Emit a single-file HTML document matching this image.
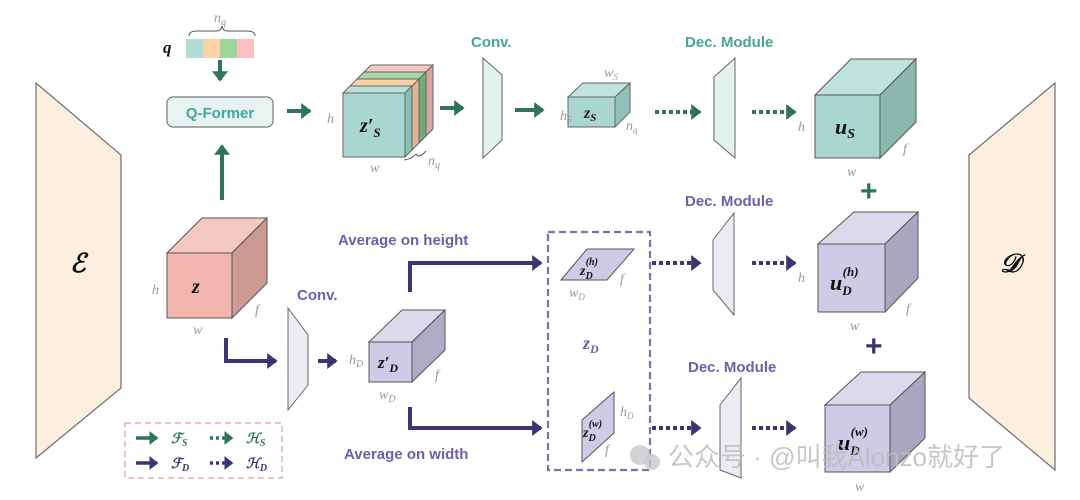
<!DOCTYPE html>
<html><head><meta charset="utf-8"><style>
html,body{margin:0;padding:0;background:#fff;}
svg{display:block;}
.lab{font-family:"Liberation Serif",serif;font-style:italic;fill:#9a9a9a;font-size:14px;}
.bt{font-family:"Liberation Sans",sans-serif;font-weight:bold;font-size:15px;}
.mth{font-family:"Liberation Serif",serif;font-weight:bold;font-style:italic;fill:#111;}
</style></head><body>
<svg width="1080" height="500" viewBox="0 0 1080 500" xmlns="http://www.w3.org/2000/svg">
<defs>
<marker id="ag" markerWidth="4" markerHeight="4" refX="2.2" refY="2" orient="auto" markerUnits="strokeWidth"><path d="M0,0 L2.6,2 L0,4z" fill="#2f7262"/></marker>
<marker id="ap" markerWidth="4" markerHeight="4" refX="2.2" refY="2" orient="auto" markerUnits="strokeWidth"><path d="M0,0 L2.6,2 L0,4z" fill="#3d3573"/></marker>
</defs>
<polygon points="36,83 121,155 121,388 36,458" fill="#fdefe0" stroke="#6d6d6d" stroke-width="1.2"/>
<text x="70" y="272" class="mth" font-size="26">ℰ</text>
<polygon points="969,155 1055,83 1055,470 969,398" fill="#fdefe0" stroke="#6d6d6d" stroke-width="1.2"/>
<text x="1000" y="272" class="mth" font-size="26">𝒟</text>

<text x="163" y="53" class="mth" font-size="17">q</text>
<rect x="186" y="39" width="17" height="19" fill="#b2ddd7"/><rect x="203" y="39" width="17" height="19" fill="#fbd3a9"/><rect x="220" y="39" width="17" height="19" fill="#9fd49b"/><rect x="237" y="39" width="17" height="19" fill="#f9c2c0"/>
<path d="M189,36 q0,-5 8,-5 h20 q4,0 5,-5 q1,5 5,5 h20 q8,0 8,5" fill="none" stroke="#555" stroke-width="1"/>
<text x="214" y="22" class="lab">n<tspan font-size="10" dy="3">q</tspan></text>
<line x1="220" y1="60" x2="220" y2="80" stroke="#2f7262" stroke-width="4" marker-end="url(#ag)"/>
<rect x="167" y="97" width="106" height="30" rx="6" fill="#e5f3f1" stroke="#777" stroke-width="1.2"/>
<text x="220" y="118" class="bt" fill="#46a596" text-anchor="middle" font-size="16">Q-Former</text>
<line x1="222" y1="200" x2="222" y2="146" stroke="#2f7262" stroke-width="4" marker-end="url(#ag)"/>
<line x1="287" y1="111" x2="310" y2="111" stroke="#2f7262" stroke-width="4" marker-end="url(#ag)"/>

<!-- z'_S stacked cube -->
<g stroke="#666" stroke-width="1">
<polygon points="364,72 426,72 433,65 371,65" fill="#f6c8c2"/>
<polygon points="426,72 433,65 433,129 426,136" fill="#d9a3a0"/>
<polygon points="357,79 419,79 426,72 364,72" fill="#a7d7a3"/>
<polygon points="419,79 426,72 426,136 419,143" fill="#6aae77"/>
<polygon points="350,86 412,86 419,79 357,79" fill="#fbd2a8"/>
<polygon points="412,86 419,79 419,143 412,150" fill="#e3b28e"/>
<polygon points="343,93 405,93 412,86 350,86" fill="#b9e0da"/>
<polygon points="405,93 412,86 412,150 405,157" fill="#87bfb6"/>
<rect x="343" y="93" width="62" height="64" fill="#a9d7d0"/>
</g>
<text x="360" y="132" class="mth" font-size="20">z′<tspan font-size="13" dy="5">S</tspan></text>
<text x="327" y="123" class="lab">h</text>
<text x="370" y="172" class="lab">w</text>
<path d="M404,160 q8,-1 12,-6 q3,5 10,-3" fill="none" stroke="#555" stroke-width="1"/>
<text x="428" y="165" class="lab">n<tspan font-size="10" dy="3">q</tspan></text>
<line x1="440" y1="108" x2="463" y2="108" stroke="#2f7262" stroke-width="4" marker-end="url(#ag)"/>
<text x="471" y="47" class="bt" fill="#46a596">Conv.</text>
<polygon points="483,58 502,75 502,140 483,158" fill="#e2f2ef" stroke="#666" stroke-width="1"/>
<line x1="515" y1="110" x2="543" y2="110" stroke="#2f7262" stroke-width="4" marker-end="url(#ag)"/>
<g stroke="#666" stroke-width="1">
<polygon points="568,97 583,83 630,83 615,97" fill="#c2e4df"/>
<polygon points="615,97 630,83 630,112 615,127" fill="#8fc1b9"/>
<rect x="568" y="97" width="47" height="30" fill="#a9d7d0"/>
</g>
<text x="584" y="118" class="mth" font-size="16">z<tspan font-size="11" dy="3">S</tspan></text>
<text x="604" y="77" class="lab" font-size="12">w<tspan font-size="9" dy="3">S</tspan></text>
<text x="560" y="120" class="lab" font-size="12">h<tspan font-size="9" dy="3">S</tspan></text>
<text x="626" y="130" class="lab" font-size="12">n<tspan font-size="9" dy="3">q</tspan></text>
<line x1="655" y1="112" x2="700" y2="112" stroke="#2f7262" stroke-width="4" stroke-dasharray="4,3" marker-end="url(#ag)"/>
<text x="685" y="47" class="bt" fill="#46a596">Dec. Module</text>
<polygon points="714,77 735,58 735,158 714,140" fill="#e2f2ef" stroke="#666" stroke-width="1"/>
<line x1="752" y1="112" x2="795" y2="112" stroke="#2f7262" stroke-width="4" stroke-dasharray="4,3" marker-end="url(#ag)"/>
<g stroke="#555" stroke-width="1">
<polygon points="815,95 851,59 916,59 880,95" fill="#bfe2dc"/>
<polygon points="880,95 916,59 916,122 880,158" fill="#8bb6ae"/>
<rect x="815" y="95" width="65" height="63" fill="#a9d7d0"/>
</g>
<text x="835" y="134" class="mth" font-size="22">u<tspan font-size="14" dy="4">S</tspan></text>
<text x="798" y="131" class="lab">h</text>
<text x="847" y="176" class="lab">w</text>
<text x="903" y="153" class="lab">f</text>
<text x="860" y="201" font-family="Liberation Sans,sans-serif" font-size="30" fill="#2f7262" font-weight="bold">+</text>

<g stroke="#555" stroke-width="1">
<polygon points="167,253 202,218 267,218 232,253" fill="#f5c8c1"/>
<polygon points="232,253 267,218 267,283 232,318" fill="#cf9a93"/>
<rect x="167" y="253" width="65" height="65" fill="#f3b6ae"/>
</g>
<text x="192" y="293" class="mth" font-size="20">z</text>
<text x="152" y="294" class="lab">h</text>
<text x="193" y="334" class="lab">w</text>
<text x="255" y="314" class="lab">f</text>
<path d="M226,338 V361 H276" fill="none" stroke="#3d3573" stroke-width="4" marker-end="url(#ap)"/>
<text x="297" y="300" class="bt" fill="#6b5fae">Conv.</text>
<polygon points="288,308 308,335 308,385 288,410" fill="#ecebf3" stroke="#666" stroke-width="1"/>
<line x1="318" y1="361" x2="336" y2="361" stroke="#3d3573" stroke-width="4" marker-end="url(#ap)"/>
<g stroke="#555" stroke-width="1">
<polygon points="369,342 402,310 445,310 412,342" fill="#dcd9ec"/>
<polygon points="412,342 445,310 445,350 412,382" fill="#aeabc4"/>
<rect x="369" y="342" width="43" height="40" fill="#cfcbe7"/>
</g>
<text x="378" y="368" class="mth" font-size="17">z′<tspan font-size="12" dy="4">D</tspan></text>
<text x="349" y="364" class="lab">h<tspan font-size="10" dy="3">D</tspan></text>
<text x="379" y="399" class="lab">w<tspan font-size="10" dy="3">D</tspan></text>
<text x="435" y="379" class="lab">f</text>
<text x="338" y="245" class="bt" fill="#6b5fae">Average on height</text>
<path d="M410,292 V263 H541" fill="none" stroke="#3d3573" stroke-width="4" marker-end="url(#ap)"/>
<text x="344" y="459" class="bt" fill="#6b5fae">Average on width</text>
<path d="M410,407 V428 H541" fill="none" stroke="#3d3573" stroke-width="4" marker-end="url(#ap)"/>

<rect x="548" y="232" width="102" height="238" fill="none" stroke="#7a6fb0" stroke-width="2.2" stroke-dasharray="7,4"/>
<polygon points="561,280 587,249 634,249 607,280" fill="#cfcbe7" stroke="#555" stroke-width="1"/>
<text x="580" y="275" class="mth" font-size="14">z<tspan font-size="10" dy="4">D</tspan><tspan font-size="10" dy="-14" dx="-7">(h)</tspan></text>
<text x="569" y="297" class="lab" font-size="13">w<tspan font-size="9" dy="3">D</tspan></text>
<text x="620" y="283" class="lab" font-size="13">f</text>
<text x="583" y="349" class="mth" font-size="18" style="fill:#6b5fae">z<tspan font-size="12" dy="4">D</tspan></text>
<polygon points="582,462 582,420 614,392 614,433" fill="#cfcbe7" stroke="#555" stroke-width="1"/>
<text x="583" y="437" class="mth" font-size="14">z<tspan font-size="10" dy="4">D</tspan><tspan font-size="10" dy="-14" dx="-7">(w)</tspan></text>
<text x="620" y="416" class="lab" font-size="13">h<tspan font-size="9" dy="3">D</tspan></text>
<text x="605" y="454" class="lab" font-size="13">f</text>

<line x1="652" y1="263" x2="700" y2="263" stroke="#3d3573" stroke-width="4" stroke-dasharray="4,3" marker-end="url(#ap)"/>
<text x="685" y="206" class="bt" fill="#6b5fae">Dec. Module</text>
<polygon points="713,240 734,213 734,315 713,290" fill="#ecebf3" stroke="#666" stroke-width="1"/>
<line x1="752" y1="263" x2="795" y2="263" stroke="#3d3573" stroke-width="4" stroke-dasharray="4,3" marker-end="url(#ap)"/>
<g stroke="#555" stroke-width="1">
<polygon points="818,244 854,212 918,212 885,244" fill="#dcd9ec"/>
<polygon points="885,244 918,212 918,278 885,312" fill="#a9a6bf"/>
<rect x="818" y="244" width="67" height="68" fill="#cfcbe7"/>
</g>
<text x="830" y="290" class="mth" font-size="22">u<tspan font-size="13" dy="5">D</tspan><tspan font-size="13" dy="-19" dx="-9">(h)</tspan></text>
<text x="798" y="282" class="lab">h</text>
<text x="850" y="330" class="lab">w</text>
<text x="906" y="313" class="lab">f</text>
<text x="865" y="356" font-family="Liberation Sans,sans-serif" font-size="30" fill="#3d3573" font-weight="bold">+</text>

<line x1="652" y1="428" x2="700" y2="428" stroke="#3d3573" stroke-width="4" stroke-dasharray="4,3" marker-end="url(#ap)"/>
<text x="688" y="372" class="bt" fill="#6b5fae">Dec. Module</text>
<polygon points="720,405 741,378 741,478 720,470" fill="#ecebf3" stroke="#666" stroke-width="1"/>
<line x1="752" y1="428" x2="795" y2="428" stroke="#3d3573" stroke-width="4" stroke-dasharray="4,3" marker-end="url(#ap)"/>
<g stroke="#555" stroke-width="1">
<polygon points="825,405 861,372 925,372 890,405" fill="#dcd9ec"/>
<polygon points="890,405 925,372 925,438 890,472" fill="#a9a6bf"/>
<rect x="825" y="405" width="65" height="67" fill="#cfcbe7"/>
</g>
<text x="838" y="450" class="mth" font-size="22">u<tspan font-size="13" dy="5">D</tspan><tspan font-size="13" dy="-19" dx="-9">(w)</tspan></text>
<text x="855" y="491" class="lab">w</text>

<rect x="125" y="423" width="157" height="55" fill="none" stroke="#e29a9a" stroke-width="1.2" stroke-dasharray="6,4"/>
<line x1="136" y1="438" x2="157" y2="438" stroke="#2f7262" stroke-width="3.5" marker-end="url(#ag)"/>
<text x="171" y="443" class="mth" font-size="14" style="fill:#2f7262">ℱ<tspan font-size="10" dy="3">S</tspan></text>
<line x1="210" y1="438" x2="232" y2="438" stroke="#2f7262" stroke-width="3.5" stroke-dasharray="3,3" marker-end="url(#ag)"/>
<text x="246" y="443" class="mth" font-size="14" style="fill:#2f7262">ℋ<tspan font-size="10" dy="3">S</tspan></text>
<line x1="136" y1="463" x2="157" y2="463" stroke="#3d3573" stroke-width="3.5" marker-end="url(#ap)"/>
<text x="171" y="468" class="mth" font-size="14" style="fill:#3d3573">ℱ<tspan font-size="10" dy="3">D</tspan></text>
<line x1="210" y1="463" x2="232" y2="463" stroke="#3d3573" stroke-width="3.5" stroke-dasharray="3,3" marker-end="url(#ap)"/>
<text x="246" y="468" class="mth" font-size="14" style="fill:#3d3573">ℋ<tspan font-size="10" dy="3">D</tspan></text>

<circle cx="640" cy="455" r="10" fill="#c8c8c8" opacity="0.8"/>
<circle cx="652" cy="462" r="8" fill="#c8c8c8" opacity="0.8"/>
<text x="668" y="466" font-family="Liberation Sans,'Noto Sans CJK SC',sans-serif" font-size="26" fill="#bdbdbd" opacity="0.85">公众号 · @叫我Alonzo就好了</text>
</svg>
</body></html>
